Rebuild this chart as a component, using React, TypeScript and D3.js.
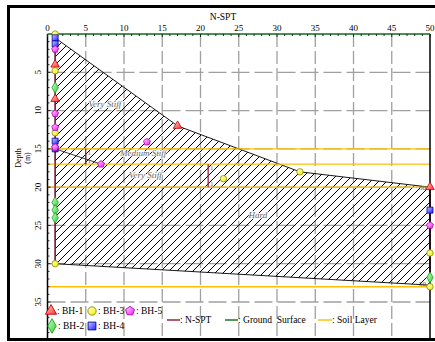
import React from "react";
import * as d3 from "d3";

// N-SPT axis ticks and depth axis ticks
const nTicks = [0, 5, 10, 15, 20, 25, 30, 35, 40, 45, 50];
const depthTicks = [5, 10, 15, 20, 25, 30, 35];

// Borehole SPT readings: [N, depth (m)]
const bh1: [number, number][] = [[1, 4], [1, 8.5], [17, 12], [50, 20]];
const bh2: [number, number][] = [[1, 7], [1, 22], [1, 23], [1, 24], [50, 31.8]];
const bh3: [number, number][] = [[1, 0], [1, 4.8], [1, 12.9], [33, 18], [23, 18.9], [1, 30], [50, 28.6], [50, 33]];
const bh4: [number, number][] = [[1, 0.5], [1, 1.3], [1, 14], [1, 15], [50, 23]];
const bh5: [number, number][] = [[1, 2], [1, 10.4], [1, 12.2], [13, 14.1], [1, 14.8], [7, 17], [50, 25]];

// Design envelope of the profile (hatched zone)
const zoneN = [1, 17, 33, 50, 50, 1];
const zoneDepth = [0.5, 12, 18, 20, 32.8, 30];

// N-SPT profile lines
const nsptLeft: [number, number][] = [[1, 0], [1, 30]];
const nsptRight: [number, number][] = [[50, 20], [50, 33]];
const nsptLink: [number, number][] = [[1, 15], [7, 17]];
const nsptBars: [number, number, number][] = [[5, 15, 17], [21, 17, 20]];

// Soil layer boundaries (m)
const soilLayers = [15, 17, 20, 33];
const soilNames = ["Very Stiff", "Medium Stiff", "Very Stiff", "Hard"];
const soilNameN = [7.5, 12.5, 12.8, 27.5];
const soilNameDepth = [9.5, 15.9, 18.8, 24];

const W = 435;
const H = 342;
const x = d3.scaleLinear().domain([0, 50]).range([47.5, 430]);
const y = d3.scaleLinear().domain([0, 35]).range([34, 302]);
const plotBottom = 338;

const serif = "'Liberation Serif', 'Times New Roman', serif";

const line = d3.line<[number, number]>().x((d) => x(d[0])).y((d) => y(d[1]));

function pentagon(r: number) {
  const pts: [number, number][] = [];
  for (let i = 0; i < 5; i++) {
    const a = -Math.PI / 2 + (i * 2 * Math.PI) / 5;
    pts.push([r * Math.cos(a), r * Math.sin(a)]);
  }
  return "M" + pts.map((p) => p.join(",")).join("L") + "Z";
}

const series = [
  { name: "BH-1", data: bh1, path: d3.symbol(d3.symbolTriangle, 32)()!, grad: "gRed", stroke: "#c00000" },
  { name: "BH-2", data: bh2, path: d3.symbol(d3.symbolDiamond, 36)()!, grad: "gGreen", stroke: "#1f9e1f" },
  { name: "BH-3", data: bh3, path: d3.symbol(d3.symbolCircle, 32)()!, grad: "gYellow", stroke: "#8a8a00" },
  { name: "BH-4", data: bh4, path: d3.symbol(d3.symbolSquare, 36)()!, grad: "gBlue", stroke: "#0000a0" },
  { name: "BH-5", data: bh5, path: pentagon(3.6), grad: "gMag", stroke: "#b000b0" },
];

const grads = [
  { id: "gRed", a: "#ffd0d0", b: "#ff3030" },
  { id: "gGreen", a: "#c8ffc8", b: "#30d030" },
  { id: "gYellow", a: "#ffffd0", b: "#f0f000" },
  { id: "gBlue", a: "#c8c8ff", b: "#2020ff" },
  { id: "gMag", a: "#ffd0ff", b: "#f020f0" },
];

export default function App() {
  const minorN = d3.range(0, 51, 1);
  const minorD = d3.range(1, 40, 1);
  const zonePts = zoneN.map((n, i) => [n, zoneDepth[i]] as [number, number]);
  const legendPos: Record<string, [number, number]> = {
    "BH-1": [51, 311],
    "BH-3": [92, 311],
    "BH-5": [130, 311],
    "BH-2": [52, 326],
    "BH-4": [92, 326],
  };
  return (
    <svg width={W} height={H} style={{ position: "absolute", left: 0, top: 0 }} fontFamily={serif}>
      <defs>
        <pattern id="hatch" patternUnits="userSpaceOnUse" width={8} height={8}>
          <path d="M-2,2 L2,-2 M0,8 L8,0 M6,10 L10,6" stroke="#000" strokeWidth={1} />
        </pattern>
        {grads.map((g) => (
          <linearGradient key={g.id} id={g.id} x1="0" y1="0" x2="1" y2="1">
            <stop offset="0%" stopColor={g.a} />
            <stop offset="100%" stopColor={g.b} />
          </linearGradient>
        ))}
      </defs>
      <rect x={0} y={0} width={W} height={H} fill="#fff" />
      {/* frame */}
      <rect x={8.5} y={6.5} width={440} height={333} fill="none" stroke="#000" strokeWidth={3} />

      {/* title */}
      <text x={223} y={20} fontSize={9.5} textAnchor="middle">N-SPT</text>

      {/* grid */}
      {nTicks.slice(1, -1).map((t) => (
        <line key={"gx" + t} x1={x(t)} x2={x(t)} y1={y(0)} y2={plotBottom} stroke="#a0a0a0" strokeWidth={1.3} strokeDasharray="13,4" />
      ))}
      {depthTicks.map((t) => (
        <line key={"gy" + t} x1={x(0)} x2={x(50)} y1={y(t)} y2={y(t)} stroke="#a0a0a0" strokeWidth={1.3} strokeDasharray="18,5" />
      ))}

      {/* hatched zone */}
      <path d={line(zonePts) + "Z"} fill="url(#hatch)" stroke="#000" strokeWidth={0.9} />
      <path d={line(nsptLink)!} fill="none" stroke="#222" strokeWidth={0.9} />

      {/* soil layers */}
      {soilLayers.map((dpt) => (
        <line key={"sl" + dpt} x1={x(0)} x2={x(50)} y1={y(dpt)} y2={y(dpt)} stroke="#ffbf00" strokeWidth={1.4} />
      ))}

      {/* soil names */}
      {soilNames.map((s, i) => (
        <text key={"sn" + i} x={x(soilNameN[i])} y={y(soilNameDepth[i])} fontSize={9} fontStyle="italic" textAnchor="middle" fill="#666" stroke="#fff" strokeWidth={1.5} paintOrder="stroke">{s}</text>
      ))}

      {/* N-SPT lines */}
      <path d={line(nsptLeft)!} stroke="#8b1538" strokeWidth={1.3} fill="none" />
      <path d={line(nsptRight)!} stroke="#8b1538" strokeWidth={1.3} fill="none" />
      {nsptBars.map(([n, d0, d1], i) => (
        <g key={"bar" + i}>
          <line x1={x(n)} x2={x(n)} y1={y(d0)} y2={y(d1)} stroke="#8b1538" strokeWidth={1.2} />
          <text x={x(n) + 2} y={y(d0) + 6} fontSize={6} fill="#555">1</text>
          <text x={x(n) + 2} y={y(d1) - 1} fontSize={6} fill="#555">1</text>
        </g>
      ))}
      <text x={x(50) - 4} y={y(20) + 3} fontSize={7} fill="#555" textAnchor="end">50</text>
      <text x={x(50) - 4} y={y(33) - 1} fontSize={7} fill="#555" textAnchor="end">50</text>

      {/* axes */}
      <line x1={x(0)} x2={x(0)} y1={y(0)} y2={plotBottom} stroke="#000" strokeWidth={1.5} />
      <line x1={x(50)} x2={x(50)} y1={y(0)} y2={plotBottom} stroke="#000" strokeWidth={1.5} />
      <line x1={x(0)} x2={x(50)} y1={y(0)} y2={y(0)} stroke="#0b6b1b" strokeWidth={1.6} />
      {minorN.map((t) => (
        <line key={"mt" + t} x1={x(t)} x2={x(t)} y1={y(0)} y2={y(0) + (t % 5 === 0 ? 3 : 2)} stroke="#222" strokeWidth={1} />
      ))}
      {minorD.map((t) => (
        <line key={"md" + t} x1={x(0)} x2={x(0) + (t % 5 === 0 ? 3 : 2)} y1={y(t)} y2={y(t)} stroke="#222" strokeWidth={1} />
      ))}
      {nTicks.map((t) => (
        <text key={"tx" + t} x={x(t)} y={y(0) - 3} fontSize={9} textAnchor="middle">{t}</text>
      ))}
      {depthTicks.map((t) => (
        <text key={"ty" + t} transform={`translate(${x(0) - 7},${y(t)}) rotate(-90)`} fontSize={9} textAnchor="middle">{t}</text>
      ))}
      <text transform={`translate(21,158) rotate(-90)`} fontSize={8} textAnchor="middle">Depth</text>
      <text transform={`translate(30,158) rotate(-90)`} fontSize={8} textAnchor="middle">(m)</text>

      {/* borehole markers */}
      {series.map((s) =>
        s.data.map((p, i) => (
          <path key={s.name + i} d={s.path} transform={`translate(${x(p[0])},${y(p[1])})`} fill={`url(#${s.grad})`} stroke={s.stroke} strokeWidth={0.8} />
        ))
      )}

      {/* legend */}
      {series.map((s) => {
        const [lx, ly] = legendPos[s.name];
        return (
          <g key={"lg" + s.name}>
            <path d={s.path} transform={`translate(${lx},${ly}) scale(1.3)`} fill={`url(#${s.grad})`} stroke={s.stroke} strokeWidth={0.7} />
            <text x={lx + 6} y={ly + 3} fontSize={9.5}>: {s.name}</text>
          </g>
        );
      })}
      <line x1={167} x2={180} y1={320} y2={320} stroke="#8b1538" strokeWidth={1.4} />
      <text x={180} y={323} fontSize={9.5}>: N-SPT</text>
      <line x1={225} x2={238} y1={320} y2={320} stroke="#0b6b1b" strokeWidth={1.4} />
      <text x={238} y={323} fontSize={9.5} xmlSpace="preserve">: Ground  Surface</text>
      <line x1={318} x2={332} y1={320} y2={320} stroke="#ffbf00" strokeWidth={1.4} />
      <text x={332} y={323} fontSize={9.5}>: Soil Layer</text>
    </svg>
  );
}
